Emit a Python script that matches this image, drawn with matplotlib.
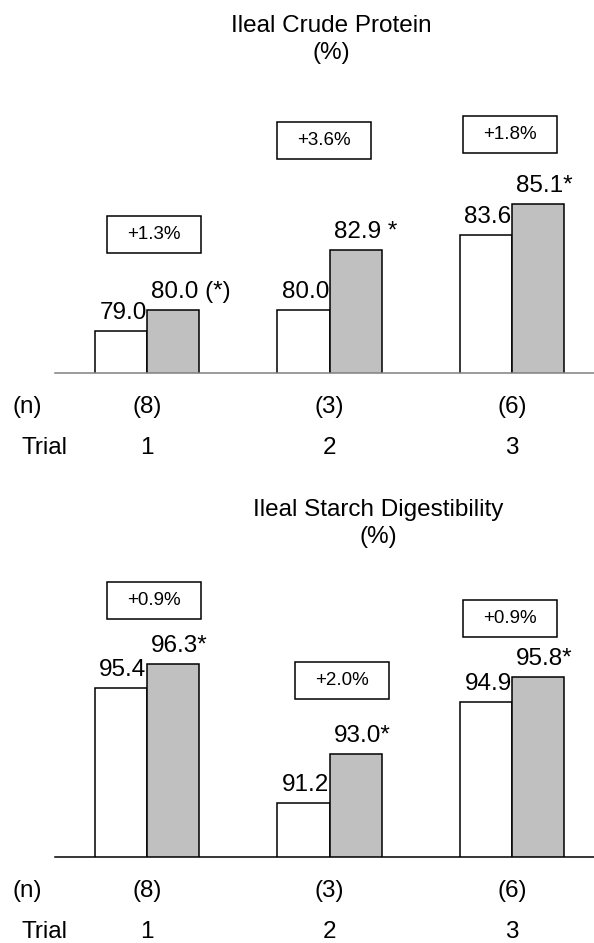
import numpy as np
import matplotlib
matplotlib.use('Agg')
import matplotlib.pyplot as plt
import matplotlib.transforms as mtransforms

plt.rcParams['font.family'] = ['Liberation Sans', 'DejaVu Sans']

# ---------------- data ----------------
trials = ['1', '2', '3']
n_labels = ['(8)', '(3)', '(6)']

protein_control = [79.0, 80.0, 83.6]
protein_treated = [80.0, 82.9, 85.1]
protein_control_txt = ['79.0', '80.0', '83.6']
protein_treated_txt = ['80.0 (*)', '82.9 *', '85.1*']
protein_change = ['+1.3%', '+3.6%', '+1.8%']
protein_box_y = [83.63, 88.12, 88.41]    # box centres, data units
protein_box_dx = [0.04, -0.03, -0.01]

starch_control = [95.4, 91.2, 94.9]
starch_treated = [96.3, 93.0, 95.8]
starch_control_txt = ['95.4', '91.2', '94.9']
starch_treated_txt = ['96.3*', '93.0*', '95.8*']
starch_change = ['+0.9%', '+2.0%', '+0.9%']
starch_box_y = [98.6, 95.7, 97.94]
starch_box_dx = [0.04, 0.07, -0.01]

W, H = 594, 943
fig = plt.figure(figsize=(W / 100, H / 100), dpi=100)

FS = 17.5
BOX_FS = 13.5
BAR_W = 0.285


def fx(px):
    return px / W


def fy(py):
    return 1 - py / H


def panel(base_px, top_px, ymin, ymax, ctrl, trt, ctrl_txt, trt_txt,
          change, box_y, box_dx, title, title_x, title_y, spine_color):
    ax = fig.add_axes([fx(55), fy(base_px), 1 - fx(55), (base_px - top_px) / H])
    x = np.arange(len(trials))
    ax.bar(x - BAR_W / 2, ctrl, BAR_W, color='white', edgecolor='black', linewidth=1.1)
    ax.bar(x + BAR_W / 2, trt, BAR_W, color='#c0c0c0', edgecolor='black', linewidth=1.1)
    ax.set_xlim(-0.504, 2.449)
    ax.set_ylim(ymin, ymax)
    for s in ['top', 'left', 'right']:
        ax.spines[s].set_visible(False)
    ax.spines['bottom'].set_color(spine_color)
    ax.spines['bottom'].set_linewidth(1.1)
    ax.set_xticks([])
    ax.set_yticks([])
    ax.patch.set_alpha(0)

    for i in range(len(trials)):
        ax.annotate(ctrl_txt[i], xy=(x[i] - BAR_W / 2, ctrl[i]), xytext=(2, 12),
                    textcoords='offset pixels', ha='center', va='baseline', fontsize=FS)
        ax.annotate(trt_txt[i], xy=(x[i], trt[i]), xytext=(4, 12),
                    textcoords='offset pixels', ha='left', va='baseline', fontsize=FS)
        # change box, fixed pixel size centred on a data point
        cx, cy = x[i] + box_dx[i], box_y[i]
        tr = mtransforms.Affine2D() + mtransforms.ScaledTranslation(cx, cy, ax.transData)
        rect = plt.Rectangle((-47, -18.5), 94, 37, transform=tr, facecolor='white',
                             edgecolor='black', linewidth=1.1, clip_on=False)
        ax.add_artist(rect)
        ax.text(cx, cy, change[i], ha='center', va='center', fontsize=BOX_FS)
        # n and trial rows
        ax.annotate(n_labels[i], xy=(x[i], 0), xycoords=('data', 'axes fraction'),
                    xytext=(0, -40), textcoords='offset pixels', ha='center',
                    va='baseline', fontsize=FS)
        ax.annotate(trials[i], xy=(x[i], 0), xycoords=('data', 'axes fraction'),
                    xytext=(0, -81), textcoords='offset pixels', ha='center',
                    va='baseline', fontsize=FS)

    fig.text(fx(13), fy(base_px + 40), '(n)', ha='left', va='baseline', fontsize=FS)
    fig.text(fx(21), fy(base_px + 81), 'Trial', ha='left', va='baseline', fontsize=FS)
    fig.text(fx(title_x), fy(title_y), title, ha='center', va='baseline', fontsize=FS)
    fig.text(fx(title_x), fy(title_y + 27), '(%)', ha='center', va='baseline', fontsize=FS)
    return ax


# top: baseline at 373 px, 20.9 px per unit
panel(373, 100, 77.0, 77.0 + 273 / 20.9, protein_control, protein_treated,
      protein_control_txt, protein_treated_txt, protein_change, protein_box_y,
      protein_box_dx, 'Ileal Crude Protein', 331, 32, '#808080')

# bottom: baseline at 857 px, 27.3 px per unit
panel(857, 560, 89.22, 89.22 + 297 / 27.3, starch_control, starch_treated,
      starch_control_txt, starch_treated_txt, starch_change, starch_box_y,
      starch_box_dx, 'Ileal Starch Digestibility', 378, 516, 'black')

fig.savefig('out.png', dpi=100)
